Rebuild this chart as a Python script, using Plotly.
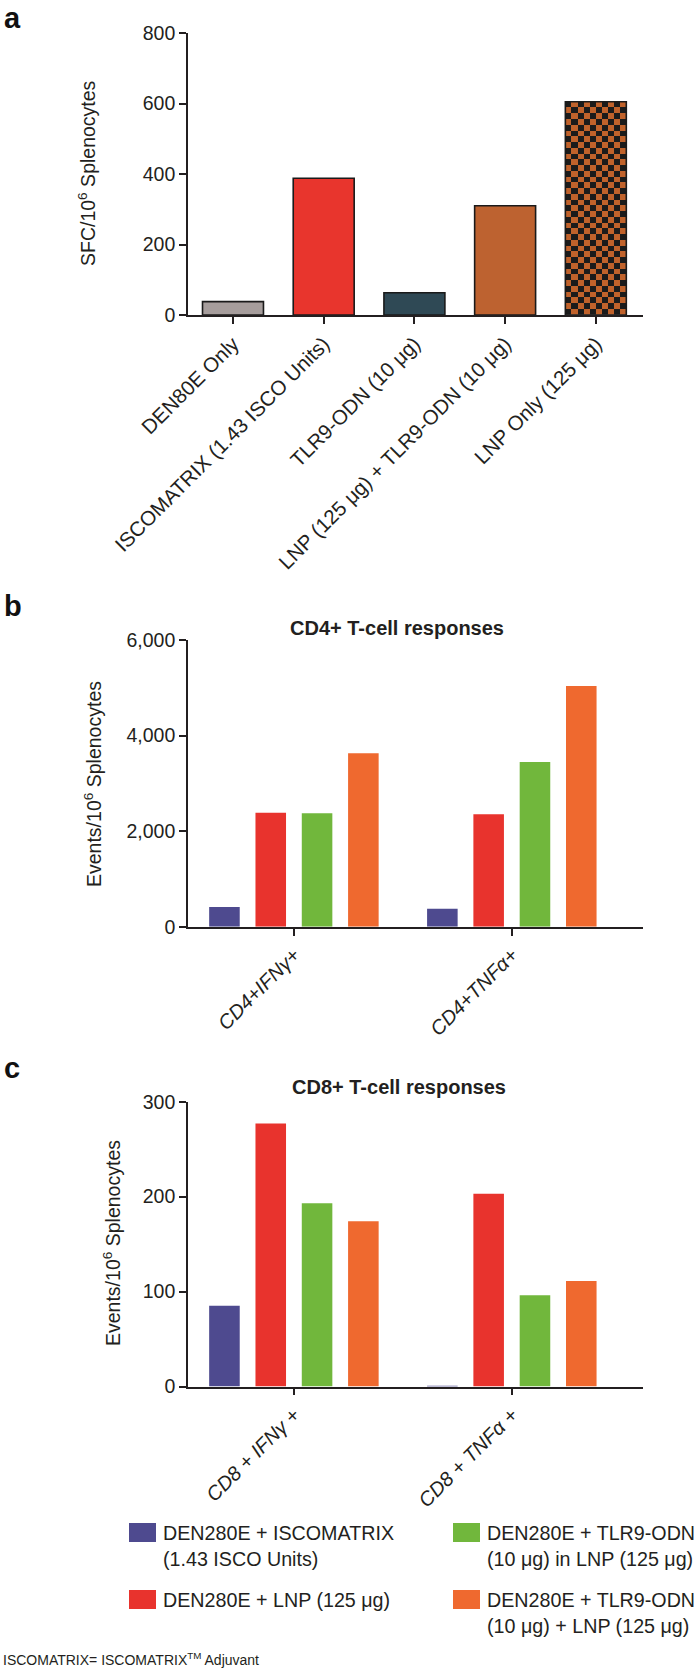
import plotly.graph_objects as go

# ---------------- DATA ----------------
a_categories = ["DEN80E Only", "ISCOMATRIX (1.43 ISCO Units)", "TLR9-ODN (10 μg)",
                "LNP (125 μg) + TLR9-ODN (10 μg)", "LNP Only (125 μg)"]
a_values = [38, 388, 63, 310, 605]
a_colors = ["#a69d9c", "#e8352d", "#2f4955", "#bd6230", "#c0622b"]

bc_categories_b = ["CD4+IFNγ+", "CD4+TNFα+"]
bc_categories_c = ["CD8 + IFNγ +", "CD8 + TNFα +"]
series_names = ["DEN280E + ISCOMATRIX<br>(1.43 ISCO Units)",
                "DEN280E + LNP (125 μg)",
                "DEN280E + TLR9-ODN<br>(10 μg) in LNP (125 μg)",
                "DEN280E + TLR9-ODN<br>(10 μg) + LNP (125 μg)"]
series_colors = ["#4e4a8f", "#e8332d", "#71b73c", "#ef692f"]
cd4_values = [[410, 377], [2386, 2352], [2373, 3447], [3629, 5037]]
cd8_values = [[85, 0.6], [277, 203], [193, 96], [174, 111]]

a_ticks = [0, 200, 400, 600, 800]
b_ticks = [0, 2000, 4000, 6000]
c_ticks = [0, 100, 200, 300]

# ---------------- LAYOUT CONSTANTS ----------------
W, H = 700, 1671
FONT = "Liberation Sans, Arial, sans-serif"
INK = "#231f20"

def py(pix):  # pixel-from-top -> paper y
    return 1 - pix / H

def px(pix):
    return pix / W

fig = go.Figure()

# ---- panel a ----
bar_w = 0.672
a_x = list(range(len(a_categories)))
fig.add_trace(go.Bar(x=a_x, y=a_values, width=bar_w,
                     marker=dict(color=[c if i < 4 else "rgba(0,0,0,0)" for i, c in enumerate(a_colors)],
                                 line=dict(color="#1a1a1a", width=1.6)),
                     xaxis="x", yaxis="y", showlegend=False, hoverinfo="skip"))
# checkerboard fill for last bar, derived from its value
ncol, nrow = 10, 37
last = len(a_values) - 1
dx = bar_w / ncol
dy = a_values[last] / nrow
z = [[(i + j) % 2 for j in range(ncol)] for i in range(nrow)]
fig.add_trace(go.Heatmap(z=z, x0=a_x[last] - bar_w / 2 + dx / 2, dx=dx, y0=dy / 2, dy=dy,
                         colorscale=[[0, "#1b1b1b"], [0.5, "#1b1b1b"], [0.5, a_colors[last]], [1, a_colors[last]]],
                         showscale=False, hoverinfo="skip", xaxis="x", yaxis="y", zsmooth=False))

# ---- panels b and c ----
for k in range(4):
    fig.add_trace(go.Bar(x=bc_categories_b, y=cd4_values[k], name=series_names[k],
                         marker=dict(color=series_colors[k], line=dict(width=0)),
                         xaxis="x2", yaxis="y2", showlegend=False, hoverinfo="skip"))
    fig.add_trace(go.Bar(x=bc_categories_c, y=cd8_values[k], name=series_names[k],
                         marker=dict(color=series_colors[k], line=dict(width=0)),
                         xaxis="x3", yaxis="y3", showlegend=False, hoverinfo="skip"))

xdom = [px(188), px(643)]
common_axis = dict(showline=True, linecolor=INK, linewidth=1.6, ticks="outside", ticklen=7,
                   tickwidth=1.6, tickcolor=INK, showgrid=False, zeroline=False, automargin=False,
                   tickfont=dict(family=FONT, size=19.5, color=INK))
italic_font = dict(family=FONT, size=20, color=INK, style="italic")

fig.update_layout(
    template="none",
    width=W, height=H, margin=dict(l=0, r=0, t=0, b=0, autoexpand=False),
    paper_bgcolor="white", plot_bgcolor="white",
    barmode="group", bargap=0.15, bargroupgap=0.34,
    font=dict(family=FONT, color=INK),
    xaxis=dict(domain=xdom, anchor="y", range=[-0.496, 4.52], tickvals=a_x, ticktext=a_categories,
               tickangle=-45, **{**common_axis, "tickfont": dict(family=FONT, size=20.5, color=INK)}),
    yaxis=dict(domain=[py(315), py(33)], anchor="x", range=[0, 800], tickvals=a_ticks, **common_axis),
    xaxis2=dict(domain=xdom, anchor="y2", range=[-0.486, 1.602], type="category", tickangle=-45,
                **{**common_axis, "tickfont": italic_font}),
    yaxis2=dict(domain=[py(926.7), py(640)], anchor="x2", range=[0, 6000], tickvals=b_ticks,
                tickformat=",", **common_axis),
    xaxis3=dict(domain=xdom, anchor="y3", range=[-0.486, 1.602], type="category", tickangle=-45,
                **{**common_axis, "tickfont": italic_font}),
    yaxis3=dict(domain=[py(1386.5), py(1101.7)], anchor="x3", range=[0, 300], tickvals=c_ticks,
                **common_axis),
)

ann = []
# panel letters
for letter, ytop in [("a", 0), ("b", 588), ("c", 1050)]:
    ann.append(dict(text="<b>%s</b>" % letter, x=px(2), y=py(ytop), xref="paper", yref="paper",
                    xanchor="left", yanchor="top", showarrow=False,
                    font=dict(family=FONT, size=29, color="#111")))
# y-axis titles
for txt, xc, yc in [("SFC/10<sup>6</sup> Splenocytes", 87, 173),
                    ("Events/10<sup>6</sup> Splenocytes", 93, 784),
                    ("Events/10<sup>6</sup> Splenocytes", 112, 1243)]:
    ann.append(dict(text=txt, x=px(xc), y=py(yc), xref="paper", yref="paper", textangle=-90,
                    xanchor="center", yanchor="middle", showarrow=False,
                    font=dict(family=FONT, size=19.5, color=INK)))
# panel titles
for txt, xc, yc in [("<b>CD4+ T-cell responses</b>", 397, 628), ("<b>CD8+ T-cell responses</b>", 399, 1087)]:
    ann.append(dict(text=txt, x=px(xc), y=py(yc), xref="paper", yref="paper",
                    xanchor="center", yanchor="middle", showarrow=False,
                    font=dict(family=FONT, size=20, color=INK)))

# custom legend (2 columns x 2 rows): order blue, green / red, orange
leg_order = [0, 2, 1, 3]
col_x = [129, 453]
row_top = [1523, 1590]
sq_w, sq_h = 27, 19
shapes = []
for pos, k in enumerate(leg_order):
    cx = col_x[pos % 2]
    rt = row_top[pos // 2]
    shapes.append(dict(type="rect", xref="paper", yref="paper", x0=px(cx), x1=px(cx + sq_w),
                       y0=py(rt + sq_h), y1=py(rt), fillcolor=series_colors[k], line=dict(width=0)))
    ann.append(dict(text=series_names[k], x=px(cx + sq_w + 5), y=py(rt - 3), xref="paper", yref="paper",
                    xanchor="left", yanchor="top", align="left", showarrow=False,
                    font=dict(family=FONT, size=19.7, color=INK)))

ann.append(dict(text="ISCOMATRIX= ISCOMATRIX<sup>TM</sup> Adjuvant", x=px(1), y=py(1670),
                xref="paper", yref="paper", xanchor="left", yanchor="bottom", showarrow=False,
                font=dict(family=FONT, size=14, color=INK)))

fig.update_layout(annotations=ann, shapes=shapes)
fig.write_html("out.html", config={"displayModeBar": False},
               post_script="document.body.style.margin='0px';document.body.style.padding='0px';"
                           "document.documentElement.style.overflow='hidden';")
